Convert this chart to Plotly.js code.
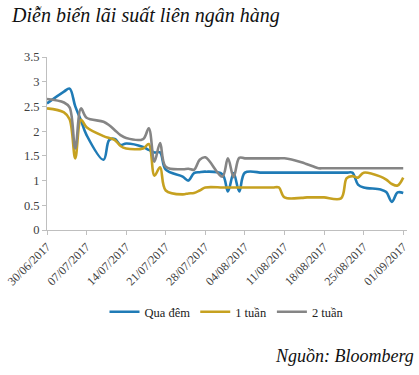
<!DOCTYPE html>
<html>
<head>
<meta charset="utf-8">
<script src="https://cdn.plot.ly/plotly-3.0.1.min.js"></script>
<style>
html,body{margin:0;padding:0;background:#fff;}
#chart{width:419px;height:375px;}
</style>
</head>
<body>
<div id="chart"></div>
<script>
var dates = ['2017-06-30','2017-07-03','2017-07-04','2017-07-05','2017-07-06','2017-07-07',
 '2017-07-10','2017-07-11','2017-07-12','2017-07-13','2017-07-14',
 '2017-07-17','2017-07-18','2017-07-19','2017-07-20','2017-07-21',
 '2017-07-24','2017-07-25','2017-07-26','2017-07-27','2017-07-28',
 '2017-07-31','2017-08-01','2017-08-02','2017-08-03','2017-08-04',
 '2017-08-07','2017-08-08','2017-08-09','2017-08-10','2017-08-11',
 '2017-08-14','2017-08-15','2017-08-16','2017-08-17','2017-08-18',
 '2017-08-21','2017-08-22','2017-08-23','2017-08-24','2017-08-25',
 '2017-08-28','2017-08-29','2017-08-30','2017-08-31','2017-09-01'];

var quaDem = [2.56,2.80,2.86,2.50,2.22,1.92,
 1.42,1.82,1.84,1.72,1.75,
 1.68,1.62,1.57,1.57,1.22,
 1.08,1.00,1.15,1.17,1.18,
 1.13,0.78,1.15,0.78,1.16,
 1.16,1.16,1.16,1.16,1.16,
 1.16,1.16,1.16,1.16,1.16,
 1.16,1.16,1.16,0.92,0.86,
 0.82,0.77,0.57,0.76,0.75];

var motTuan = [2.46,2.38,2.24,1.45,2.23,2.08,
 1.90,1.86,1.82,1.70,1.65,
 1.65,1.74,1.10,1.27,0.80,
 0.72,0.74,0.75,0.80,0.86,
 0.86,0.86,0.86,0.86,0.86,
 0.86,0.86,0.86,0.86,0.66,
 0.65,0.66,0.66,0.66,0.66,
 0.64,1.05,1.09,1.06,1.16,
 1.08,1.02,0.93,0.90,1.06];

var haiTuan = [2.65,2.58,2.48,1.65,2.46,2.27,
 2.19,2.12,2.02,1.92,1.86,
 1.84,2.06,1.38,1.76,1.28,
 1.23,1.24,1.22,1.42,1.47,
 1.08,1.45,1.07,1.46,1.45,
 1.45,1.45,1.45,1.45,1.45,
 1.37,1.33,1.29,1.25,1.25,
 1.25,1.25,1.25,1.25,1.25,
 1.25,1.25,1.25,1.25,1.25];

var tickDates = ['2017-06-30','2017-07-07','2017-07-14','2017-07-21','2017-07-28',
 '2017-08-04','2017-08-11','2017-08-18','2017-08-25','2017-09-01'];
var tickLabels = ['30/06/2017','07/07/2017','14/07/2017','21/07/2017','28/07/2017',
 '04/08/2017','11/08/2017','18/08/2017','25/08/2017','01/09/2017'];

var seriesNames = ['Qua đêm','1 tuần','2 tuần'];
var seriesColors = ['#1f7bb6','#c6a120','#858585'];
var seriesValues = [quaDem, motTuan, haiTuan];

var traces = seriesValues.map(function(v,i){
  return {x: dates, y: v, type:'scatter', mode:'lines', name: seriesNames[i],
    line:{color: seriesColors[i], width:2.6, shape:'spline', smoothing:1}};
});

var serif = '"Liberation Serif", "Times New Roman", Times, serif';
var layout = {
  width:419, height:375,
  font:{family:serif},
  margin:{l:47, r:12, t:57, b:145},
  paper_bgcolor:'#fff', plot_bgcolor:'#fff',
  showlegend:true,
  legend:{orientation:'h', x:0.5, xanchor:'center', y:-0.475, yanchor:'middle',
    font:{family:serif, size:12.5, color:'#222'}, itemwidth:30, tracegroupgap:0},
  xaxis:{type:'date', range:['2017-06-30','2017-09-01 16:00'],
    tickmode:'array', tickvals: tickDates, ticktext: tickLabels, tickangle:-45,
    showgrid:false, zeroline:false, showline:true, linecolor:'#bfbfbf', linewidth:1,
    ticks:'outside', ticklen:4, tickcolor:'#bfbfbf',
    tickfont:{family:serif, size:12, color:'#404040'}},
  yaxis:{range:[0,3.5], dtick:0.5, tick0:0, showgrid:false, zeroline:false,
    showline:true, linecolor:'#bfbfbf', linewidth:1, ticks:'outside', ticklen:4, tickcolor:'#bfbfbf',
    tickfont:{family:serif, size:12.5, color:'#404040'}},
  annotations:[
    {text:'<i>Diễn biến lãi suất liên ngân hàng</i>', xref:'paper', yref:'paper', x:-0.105, y:1.24,
     xanchor:'left', yanchor:'middle', showarrow:false,
     font:{family:serif, size:20, color:'#111'}},
    {text:'<i>Nguồn: Bloomberg</i>', xref:'paper', yref:'paper', x:1.025, y:-0.73,
     xanchor:'right', yanchor:'middle', showarrow:false,
     font:{family:serif, size:18, color:'#111'}}
  ]
};

Plotly.newPlot('chart', traces, layout, {displayModeBar:false, staticPlot:true});
</script>
</body>
</html>
